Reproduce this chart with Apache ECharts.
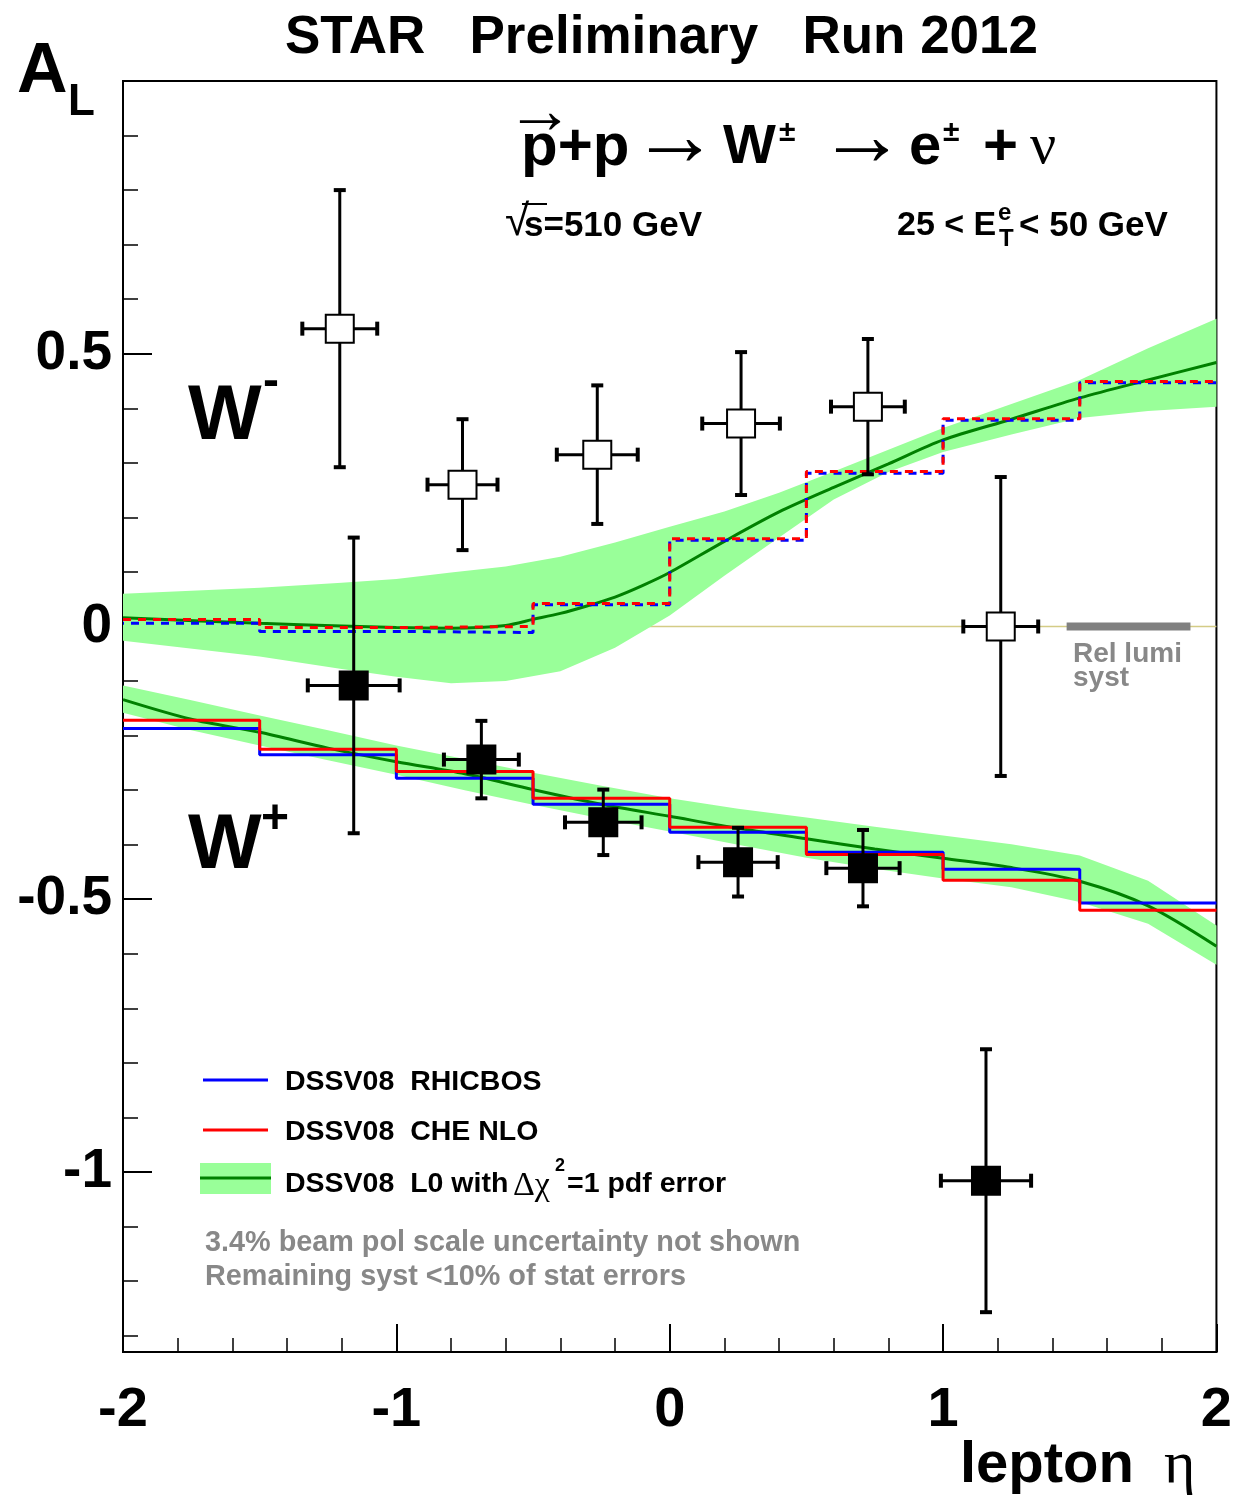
<!DOCTYPE html>
<html>
<head>
<meta charset="utf-8">
<script src="https://cdn.jsdelivr.net/npm/echarts@6/dist/echarts.min.js"></script>
<style>
  html, body { margin: 0; padding: 0; background: #ffffff; }
  #chart { width: 1235px; height: 1496px; }
</style>
</head>
<body>
<div id="chart"></div>
<script>
// ---- Measured asymmetries, W- (open squares) ----
const wmEta    = [-1.207, -0.758, -0.265, 0.261, 0.725, 1.211];
const wmAL     = [0.546, 0.260, 0.315, 0.372, 0.403, 0.000];
const wmEtaErr = [0.137, 0.128, 0.148, 0.142, 0.135, 0.137];
const wmStat   = [0.254, 0.120, 0.127, 0.131, 0.124, 0.274];

// ---- Measured asymmetries, W+ (filled squares) ----
const wpEta    = [-1.156, -0.689, -0.243, 0.250, 0.707, 1.157];
const wpAL     = [-0.108, -0.244, -0.359, -0.432, -0.443, -1.016];
const wpEtaErr = [0.168, 0.137, 0.140, 0.145, 0.134, 0.165];
const wpStat   = [0.271, 0.071, 0.060, 0.063, 0.070, 0.241];

// ---- Binned predictions (bin lower edges, width 0.5) ----
const binEdges      = [-2, -1.5, -1, -0.5, 0, 0.5, 1, 1.5];
const wmRhicbos     = [0.006, -0.009, -0.011, 0.040, 0.158, 0.281, 0.378, 0.447];
const wmCheNlo      = [0.013, -0.002, 0.000, 0.042, 0.161, 0.284, 0.381, 0.449];
const wpRhicbos     = [-0.187, -0.235, -0.278, -0.326, -0.377, -0.414, -0.445, -0.507];
const wpCheNlo      = [-0.172, -0.225, -0.266, -0.315, -0.368, -0.418, -0.465, -0.520];

// ---- LO curve, W- : central value and pdf error band ----
const wmCurveEta = [-2, -1.5, -1.2, -1.0, -0.8, -0.6, -0.5, -0.4, -0.3, -0.2, -0.1, 0, 0.2, 0.4, 0.6, 0.8, 1.0, 1.25, 1.5, 1.75, 2.0];
const wmCurveAL  = [0.016, 0.006, 0.001, -0.002, -0.003, 0.002, 0.013, 0.024, 0.038, 0.054, 0.075, 0.099, 0.156, 0.210, 0.255, 0.298, 0.342, 0.380, 0.419, 0.452, 0.484];
const wmBandEta  = [-2, -1.5, -1.2, -1.0, -0.8, -0.6, -0.4, -0.2, 0, 0.2, 0.4, 0.6, 0.8, 1.0, 1.25, 1.5, 1.75, 2.0];
const wmBandHi   = [0.060, 0.071, 0.080, 0.087, 0.099, 0.110, 0.128, 0.154, 0.183, 0.211, 0.245, 0.284, 0.324, 0.364, 0.408, 0.452, 0.510, 0.564];
const wmBandLo   = [-0.026, -0.055, -0.078, -0.092, -0.104, -0.100, -0.082, -0.039, 0.020, 0.093, 0.163, 0.233, 0.283, 0.320, 0.352, 0.382, 0.395, 0.403];

// ---- LO curve, W+ : central value and pdf error band ----
const wpCurveEta = [-2, -1.75, -1.5, -1.25, -1.0, -0.75, -0.5, -0.25, 0, 0.25, 0.5, 0.75, 1.0, 1.25, 1.5, 1.75, 2.0];
const wpCurveAL  = [-0.134, -0.170, -0.194, -0.223, -0.248, -0.270, -0.299, -0.326, -0.348, -0.370, -0.389, -0.408, -0.425, -0.442, -0.467, -0.512, -0.586];
const wpBandHi   = [-0.108, -0.135, -0.163, -0.190, -0.218, -0.243, -0.268, -0.292, -0.315, -0.334, -0.350, -0.367, -0.383, -0.399, -0.420, -0.466, -0.548];
const wpBandLo   = [-0.158, -0.190, -0.218, -0.245, -0.272, -0.300, -0.327, -0.352, -0.376, -0.400, -0.424, -0.444, -0.462, -0.478, -0.505, -0.545, -0.620];

// ---- Relative luminosity systematic marker ----
const relLumiRange = [1.452, 1.905];

// ---- Axis ticks ----
const yMajorTicks = [-1, -0.5, 0, 0.5];
const yMinorTicks = [-1.3, -1.2, -1.1, -0.9, -0.8, -0.7, -0.6, -0.4, -0.3, -0.2, -0.1, 0.1, 0.2, 0.3, 0.4, 0.6, 0.7, 0.8, 0.9];

const SANS = "'Liberation Sans', Arial, Helvetica, sans-serif";
const SERIF = "'Liberation Serif', 'Times New Roman', serif";
const GREEN_BAND = '#99ff99';
const GREEN_LINE = '#008000';

function pairs(xs, ys) { return xs.map((x, i) => [x, ys[i]]); }
function histo(edges, vals) {
  const d = edges.map((x, i) => [x, vals[i]]);
  d.push([2, vals[vals.length - 1]]);
  return d;
}

function bandRenderer(etas, lo, hi) {
  return function (params, api) {
    const pts = [];
    for (let i = 0; i < etas.length; i++) pts.push(api.coord([etas[i], hi[i]]));
    for (let i = etas.length - 1; i >= 0; i--) pts.push(api.coord([etas[i], lo[i]]));
    return { type: 'polygon', shape: { points: pts }, style: { fill: GREEN_BAND } };
  };
}

function errorRenderer(filled) {
  return function (params, api) {
    const x = api.value(0), y = api.value(1), ex = api.value(2), ey = api.value(3);
    const c = api.coord([x, y]);
    const l = api.coord([x - ex, y]), r = api.coord([x + ex, y]);
    const t = api.coord([x, y + ey]), b = api.coord([x, y - ey]);
    const seg = (x1, y1, x2, y2, w) => ({
      type: 'line', shape: { x1, y1, x2, y2 }, style: { stroke: '#000', lineWidth: w }
    });
    const half = 14;
    return {
      type: 'group',
      children: [
        seg(c[0], t[1], c[0], b[1], 3),
        seg(l[0], c[1], r[0], c[1], 3),
        seg(c[0] - 6, t[1], c[0] + 6, t[1], 4),
        seg(c[0] - 6, b[1], c[0] + 6, b[1], 4),
        seg(l[0], c[1] - 7, l[0], c[1] + 7, 4),
        seg(r[0], c[1] - 7, r[0], c[1] + 7, 4),
        {
          type: 'rect',
          shape: { x: c[0] - half, y: c[1] - half, width: 2 * half, height: 2 * half },
          style: { fill: filled ? '#000' : '#fff', stroke: '#000', lineWidth: 2 }
        }
      ]
    };
  };
}

function txt(x, y, text, size, opts) {
  opts = opts || {};
  return {
    type: 'text', x: x, y: y, z: 100,
    style: {
      text: text,
      fontSize: size,
      fontWeight: opts.weight || 'bold',
      fontFamily: opts.family || SANS,
      fill: opts.color || '#000',
      align: opts.align || 'left',
      verticalAlign: 'middle'
    }
  };
}
function seg(x1, y1, x2, y2, color, w) {
  return { type: 'line', z: 100, shape: { x1, y1, x2, y2 }, style: { stroke: color, lineWidth: w } };
}

const chart = echarts.init(document.getElementById('chart'), null, { renderer: 'canvas' });

const option = {
  animation: false,
  backgroundColor: '#ffffff',
  grid: { left: 123, right: 17, top: 81, bottom: 144, show: true, borderColor: '#000', borderWidth: 2, backgroundColor: 'transparent' },
  xAxis: {
    type: 'value', min: -2, max: 2, interval: 1,
    axisLine: { show: true, onZero: false, lineStyle: { color: '#000', width: 2 } },
    axisTick: { show: true, inside: true, length: 28, lineStyle: { color: '#000', width: 2 } },
    minorTick: { show: true, splitNumber: 5, length: 14, lineStyle: { color: '#000', width: 1.5 } },
    splitLine: { show: false },
    axisLabel: { fontSize: 56, fontWeight: 'bold', fontFamily: SANS, color: '#000', margin: 31 }
  },
  yAxis: [
    {
      type: 'value', min: -1.33, max: 1.0, position: 'left',
      axisLine: { show: true, onZero: false, lineStyle: { color: '#000', width: 2 } },
      axisTick: { show: true, inside: true, length: 29, customValues: yMajorTicks, lineStyle: { color: '#000', width: 2 } },
      splitLine: { show: false },
      axisLabel: { customValues: yMajorTicks, fontSize: 55, fontWeight: 'bold', fontFamily: SANS, color: '#000', margin: 11 }
    },
    {
      type: 'value', min: -1.33, max: 1.0, position: 'left',
      axisLine: { show: false, onZero: false },
      axisTick: { show: true, inside: true, length: 15, customValues: yMinorTicks, lineStyle: { color: '#000', width: 1.5 } },
      splitLine: { show: false },
      axisLabel: { show: false }
    }
  ],
  series: [
    { // zero reference line
      type: 'line', z: 1, showSymbol: false, silent: true,
      data: [[-2, 0], [2, 0]],
      lineStyle: { color: '#d4cc86', width: 1.5 }
    },
    { type: 'custom', name: 'W- LO band', z: 2, renderItem: bandRenderer(wmBandEta, wmBandLo, wmBandHi), data: [[0, 0]], silent: true },
    { type: 'custom', name: 'W+ LO band', z: 2, renderItem: bandRenderer(wpCurveEta, wpBandLo, wpBandHi), data: [[0, 0]], silent: true },
    {
      type: 'line', name: 'W- LO', z: 3, showSymbol: false, smooth: 0.3,
      data: pairs(wmCurveEta, wmCurveAL), lineStyle: { color: GREEN_LINE, width: 3 }
    },
    {
      type: 'line', name: 'W+ LO', z: 3, showSymbol: false, smooth: 0.3,
      data: pairs(wpCurveEta, wpCurveAL), lineStyle: { color: GREEN_LINE, width: 3 }
    },
    {
      type: 'line', name: 'W- RHICBOS', z: 4, showSymbol: false, step: 'end',
      data: histo(binEdges, wmRhicbos), lineStyle: { color: '#0000ff', width: 3, type: [8, 7], dashOffset: 7 }
    },
    {
      type: 'line', name: 'W- CHE NLO', z: 4, showSymbol: false, step: 'end',
      data: histo(binEdges, wmCheNlo), lineStyle: { color: '#ff0000', width: 3, type: [8, 7] }
    },
    {
      type: 'line', name: 'W+ RHICBOS', z: 4, showSymbol: false, step: 'end',
      data: histo(binEdges, wpRhicbos), lineStyle: { color: '#0000ff', width: 3 }
    },
    {
      type: 'line', name: 'W+ CHE NLO', z: 4, showSymbol: false, step: 'end',
      data: histo(binEdges, wpCheNlo), lineStyle: { color: '#ff0000', width: 3 }
    },
    {
      type: 'line', name: 'Rel lumi syst', z: 5, showSymbol: false,
      data: [[relLumiRange[0], 0], [relLumiRange[1], 0]],
      lineStyle: { color: '#808080', width: 8, cap: 'butt' }
    },
    {
      type: 'custom', name: 'W-', z: 10, renderItem: errorRenderer(false),
      encode: { x: 0, y: 1 },
      data: wmEta.map((e, i) => [e, wmAL[i], wmEtaErr[i], wmStat[i]])
    },
    {
      type: 'custom', name: 'W+', z: 10, renderItem: errorRenderer(true),
      encode: { x: 0, y: 1 },
      data: wpEta.map((e, i) => [e, wpAL[i], wpEtaErr[i], wpStat[i]])
    }
  ],
  graphic: [
    // title
    txt(285, 38, 'STAR   Preliminary   Run 2012', 53),
    // y axis title
    txt(17, 73, 'A', 70),
    txt(68, 103, 'L', 44),
    // x axis title
    txt(960, 1466, 'lepton', 58),
    txt(1164, 1466, 'η', 60, { weight: 'normal', family: SERIF }),
    // reaction
    txt(506, 114, '→', 68, { weight: 'normal' }),
    txt(521, 148, 'p+p', 60),
    txt(631, 141, '→', 88, { weight: 'normal' }),
    txt(723, 148, 'W', 56),
    txt(779, 133, '±', 30),
    txt(818, 141, '→', 88, { weight: 'normal' }),
    txt(909, 148, 'e', 58),
    txt(943, 133, '±', 30),
    txt(983, 148, '+', 60),
    txt(1030, 148, 'ν', 58, { weight: 'normal', family: SERIF }),
    // kinematics
    txt(505, 223, '√', 44, { weight: 'normal' }),
    seg(522, 204, 547, 204, '#000', 2),
    txt(524, 226, 's=510 GeV', 35),
    txt(897, 226, '25 < E', 34),
    txt(998, 213, 'e', 24),
    txt(999, 239, 'T', 24),
    txt(1019, 226, '< 50 GeV', 35),
    // charge labels
    txt(188, 417, 'W', 78),
    txt(263, 383, '-', 48),
    txt(188, 846, 'W', 78),
    txt(261, 820, '+', 48),
    // rel lumi label
    txt(1073, 654, 'Rel lumi', 28, { color: '#888888' }),
    txt(1073, 678, 'syst', 28, { color: '#888888' }),
    // legend
    seg(203, 1080, 268, 1080, '#0000ff', 3),
    txt(285, 1082, 'DSSV08  RHICBOS', 28.5),
    seg(203, 1130, 268, 1130, '#ff0000', 3),
    txt(285, 1132, 'DSSV08  CHE NLO', 28.5),
    { type: 'rect', z: 99, shape: { x: 200, y: 1163, width: 71, height: 31 }, style: { fill: GREEN_BAND } },
    seg(200, 1178, 271, 1178, GREEN_LINE, 3),
    txt(285, 1184, 'DSSV08  L0 with', 28.5),
    txt(513, 1186, 'Δχ', 34, { weight: 'normal', family: SERIF }),
    txt(555, 1166, '2', 18),
    txt(567, 1184, '=1 pdf error', 28.5),
    // notes
    txt(205, 1243, '3.4% beam pol scale uncertainty not shown', 28.8, { color: '#888888' }),
    txt(205, 1277, 'Remaining syst <10% of stat errors', 28.8, { color: '#888888' })
  ]
};

chart.setOption(option);
</script>
</body>
</html>
